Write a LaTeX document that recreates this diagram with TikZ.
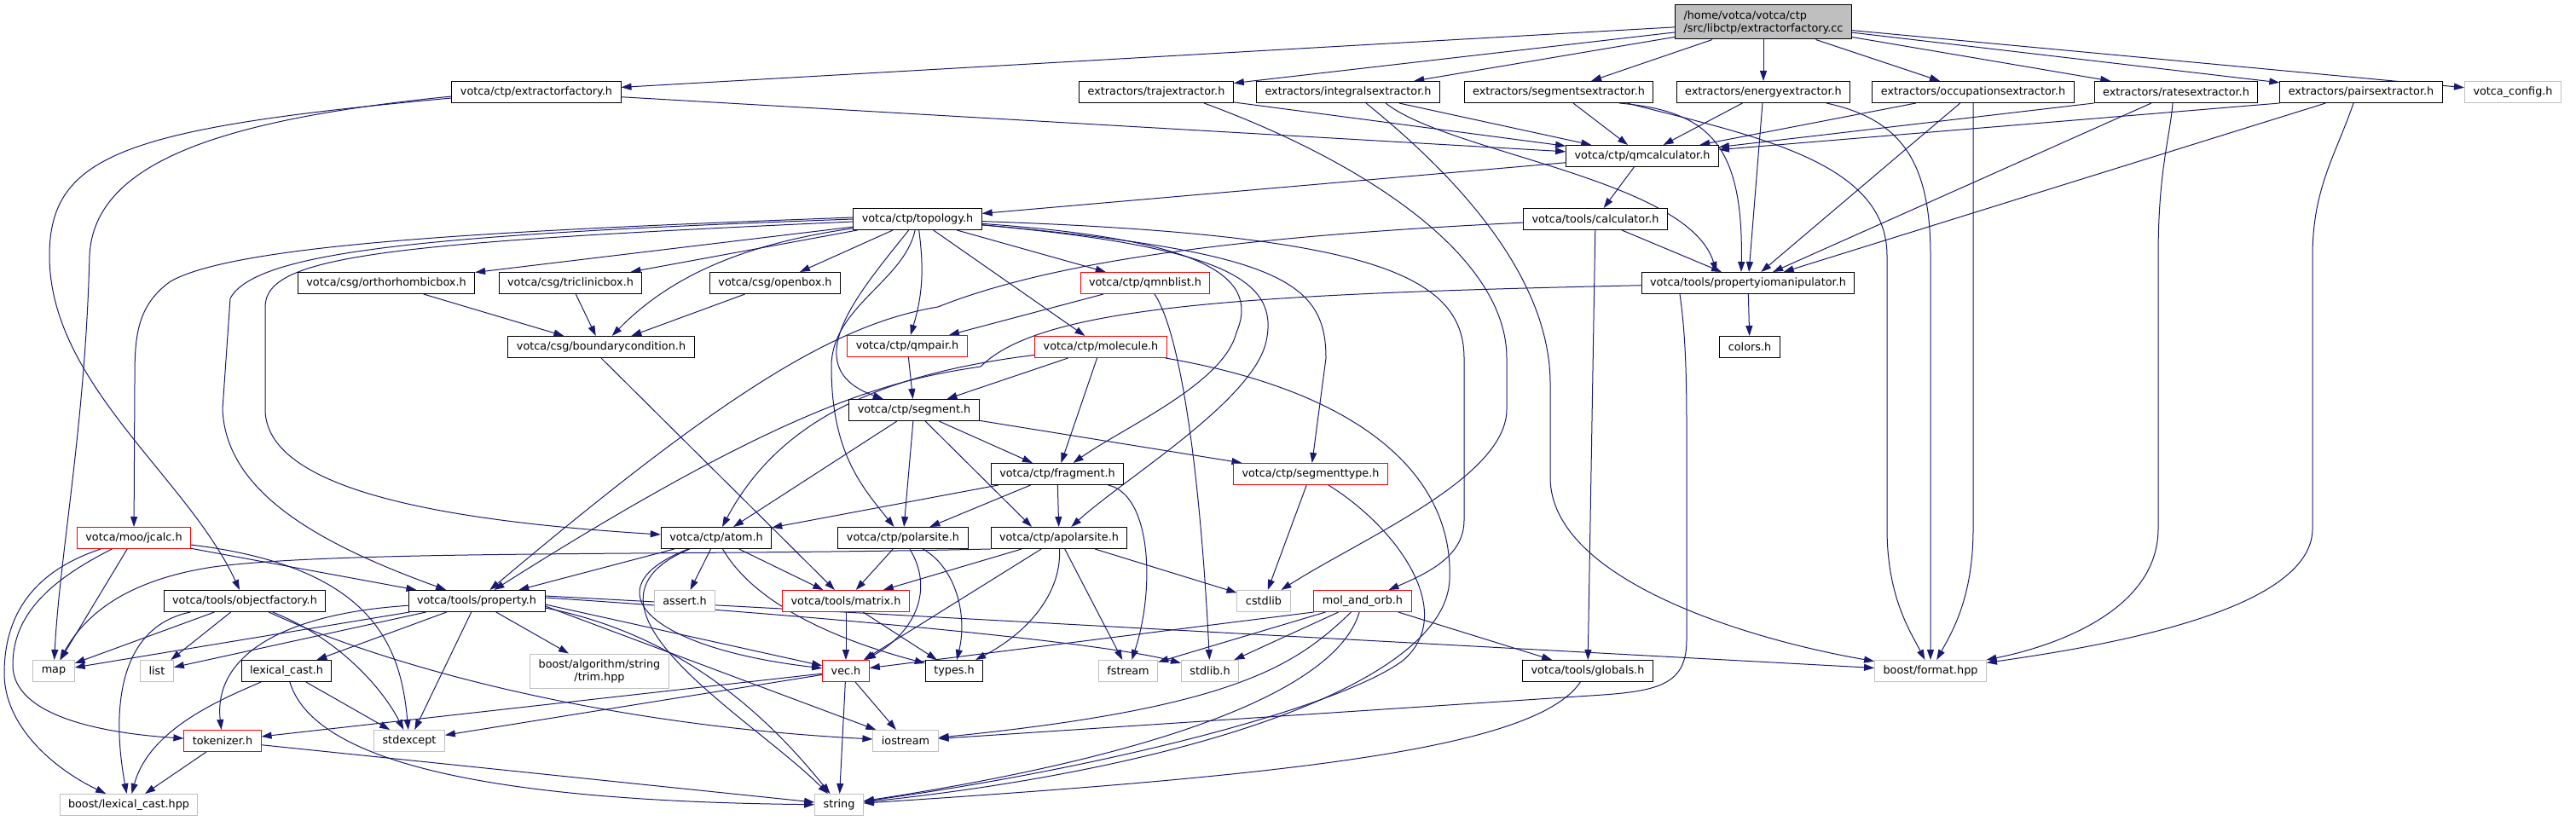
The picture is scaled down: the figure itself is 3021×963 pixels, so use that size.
\documentclass[tikz,border=0pt]{standalone}
\usepackage{fontspec}
\newfontfamily\dxfont{DejaVu Sans}
\usetikzlibrary{arrows.meta,backgrounds}
\definecolor{edgeblue}{HTML}{191970}
\definecolor{boxred}{HTML}{FF0000}
\definecolor{boxgray}{HTML}{BFBFBF}

\begin{document}
\begin{tikzpicture}[x=1pt, y=-1pt,
  hfile/.style={draw=black, fill=white, line width=1pt, inner xsep=10pt, inner ysep=0pt,
    minimum height=25pt, font=\dxfont\fontsize{12.8}{15}\selectfont},
  redfile/.style={hfile, draw=boxred},
  sysfile/.style={hfile, draw=boxgray},
  rootfile/.style={hfile, fill=boxgray, align=left, minimum height=40pt},
  dep/.style={draw=edgeblue, line width=1pt, -{Triangle[length=12pt,width=8pt]}}]
  \useasboundingbox (0,0) rectangle (3021,963);

  % Nodes
  \node[rootfile] (root) at (2068,26) {/home/votca/votca/ctp\\/src/libctp/extractorfactory.cc};
  \node[hfile] (extfac) at (629,108) {votca/ctp/extractorfactory.h};
  \node[hfile] (traj) at (1356,108) {extractors/trajextractor.h};
  \node[hfile] (integ) at (1581,108) {extractors/integralsextractor.h};
  \node[hfile] (segx) at (1828,108) {extractors/segmentsextractor.h};
  \node[hfile] (energy) at (2068,108) {extractors/energyextractor.h};
  \node[hfile] (occup) at (2314,108) {extractors/occupationsextractor.h};
  \node[hfile] (rates) at (2552,108) {extractors/ratesextractor.h};
  \node[hfile] (pairs) at (2769,108) {extractors/pairsextractor.h};
  \node[sysfile] (config) at (2947,108) {votca\_config.h};
  \node[hfile] (qmcalc) at (1926,183) {votca/ctp/qmcalculator.h};
  \node[hfile] (topo) at (1076,257) {votca/ctp/topology.h};
  \node[hfile] (calc) at (1871,257) {votca/tools/calculator.h};
  \node[hfile] (ortho) at (453,332) {votca/csg/orthorhombicbox.h};
  \node[hfile] (tricl) at (669,332) {votca/csg/triclinicbox.h};
  \node[hfile] (openbox) at (909,332) {votca/csg/openbox.h};
  \node[redfile] (qmnb) at (1343,332) {votca/ctp/qmnblist.h};
  \node[hfile] (propio) at (2050,332) {votca/tools/propertyiomanipulator.h};
  \node[hfile] (bc) at (705,407) {votca/csg/boundarycondition.h};
  \node[redfile] (qmpair) at (1064,406) {votca/ctp/qmpair.h};
  \node[redfile] (molec) at (1291,407) {votca/ctp/molecule.h};
  \node[hfile] (colors) at (2052,407) {colors.h};
  \node[hfile] (seg) at (1072,481) {votca/ctp/segment.h};
  \node[hfile] (frag) at (1240,556) {votca/ctp/fragment.h};
  \node[redfile] (segtype) at (1537,556) {votca/ctp/segmenttype.h};
  \node[redfile] (jcalc) at (157,631) {votca/moo/jcalc.h};
  \node[hfile] (atom) at (840,631) {votca/ctp/atom.h};
  \node[hfile] (polar) at (1059,631) {votca/ctp/polarsite.h};
  \node[hfile] (apolar) at (1242,631) {votca/ctp/apolarsite.h};
  \node[hfile] (objfac) at (287,705) {votca/tools/objectfactory.h};
  \node[hfile] (prop) at (559,705) {votca/tools/property.h};
  \node[sysfile] (assert) at (803,705) {assert.h};
  \node[redfile] (matrix) at (992,705) {votca/tools/matrix.h};
  \node[sysfile] (cstdlib) at (1482,705) {cstdlib};
  \node[redfile] (molorb) at (1598,705) {mol\_and\_orb.h};
  \node[sysfile] (map) at (63,787) {map};
  \node[sysfile] (list) at (184,787) {list};
  \node[hfile] (lexcast) at (336,787) {lexical\_cast.h};
  \node[sysfile, align=center, minimum height=40pt] (trim) at (703,787) {boost/algorithm/string\\/trim.hpp};
  \node[redfile] (vec) at (992,787) {vec.h};
  \node[hfile] (types) at (1119,787) {types.h};
  \node[sysfile] (fstream) at (1323,787) {fstream};
  \node[sysfile] (stdlib) at (1419,787) {stdlib.h};
  \node[hfile] (globals) at (1862,787) {votca/tools/globals.h};
  \node[sysfile] (bfmt) at (2264,787) {boost/format.hpp};
  \node[redfile] (tokenizer) at (261,869) {tokenizer.h};
  \node[sysfile] (stdexcept) at (480,869) {stdexcept};
  \node[sysfile] (iostream) at (1062,869) {iostream};
  \node[sysfile] (lexhpp) at (151,944) {boost/lexical\_cast.hpp};
  \node[sysfile] (string) at (984,944) {string};

  % Edges
  \begin{pgfonlayer}{background}
  \foreach \a/\b in {root/extfac, root/traj, root/integ, root/segx, root/energy, root/occup,
      root/rates, root/pairs, root/config,
      extfac/qmcalc, traj/qmcalc, integ/qmcalc, segx/qmcalc, energy/qmcalc, occup/qmcalc,
      qmcalc/topo, qmcalc/calc, calc/propio, calc/globals,
      energy/propio, occup/propio, rates/propio, pairs/propio, propio/colors,
      topo/ortho, topo/tricl, topo/openbox, topo/qmnb, topo/molec,
      ortho/bc, tricl/bc, openbox/bc,
      qmnb/qmpair, qmpair/seg, molec/seg, molec/frag,
      seg/frag, seg/polar, seg/segtype, seg/atom,
      frag/atom, frag/polar, frag/apolar, segtype/cstdlib,
      polar/matrix, apolar/matrix, apolar/vec, apolar/fstream, apolar/cstdlib,
      atom/prop, atom/assert, atom/matrix, matrix/vec, matrix/types,
      molorb/fstream, molorb/stdlib, molorb/globals,
      jcalc/map, jcalc/prop, objfac/map, objfac/list,
      prop/map, prop/list, prop/lexcast, prop/stdexcept, prop/trim,
      lexcast/stdexcept, vec/tokenizer, vec/stdexcept, vec/iostream, vec/string,
      tokenizer/lexhpp, tokenizer/string}
    \draw[dep] (\a) -- (\b);

  \draw[dep] (rates.south west) -- (qmcalc);
  \draw[dep] (pairs.south west) -- (qmcalc);
  \draw[dep] (seg) -- ([xshift=-32pt]apolar.north);
  \draw[dep] (molorb.south west) -- (vec);
  \draw[dep] (bc.south) -- (matrix);
  \draw[dep] ([yshift=-4pt]prop.east) -- (vec);
  \draw[dep] ([yshift=-6pt]prop.east) -- (iostream);
  \draw[dep] ([yshift=6pt]prop.east) -- (bfmt);
  \draw[dep] (topo) to[bend left=12] (qmpair);
  \draw[dep] ([xshift=11pt]qmnb.south) .. controls (1390,400) and (1410,600) .. (stdlib);

  % extractorfactory.h
  \draw[dep] ([yshift=-5pt]extfac.west) .. controls (260,140) and (110,190) .. (105,300)
    .. controls (100,500) and (70,650) .. (map);
  \draw[dep] ([yshift=-7pt]extfac.west) .. controls (150,150) and (58,180) .. (58,300)
    .. controls (58,450) and (220,560) .. (objfac);

  % extractors
  \draw[dep] ([xshift=56pt]traj.south) .. controls (1600,190) and (1767,300) .. (1767,420)
    -- (1767,480) .. controls (1767,560) and (1600,630) .. (cstdlib);
  \draw[dep] ([xshift=44pt]integ.south) .. controls (1700,180) and (1980,210) .. ([xshift=-37pt]propio.north);
  \draw[dep] ([xshift=21pt]integ.south) .. controls (1700,200) and (1818,320) .. (1818,450)
    -- (1818,560) .. controls (1818,680) and (2050,750) .. (bfmt);
  \draw[dep] ([xshift=71pt]segx.south) .. controls (2000,130) and (2045,165) .. ([xshift=-8pt]propio.north);
  \draw[dep] ([xshift=80pt]segx.south) .. controls (2060,160) and (2213,190) .. (2213,300)
    -- (2213,620) .. controls (2213,700) and (2240,740) .. (bfmt);
  \draw[dep] ([xshift=74pt]energy.south) .. controls (2230,140) and (2264,190) .. (2264,300) -- (bfmt);
  \draw[dep] (occup) -- (2314,620) .. controls (2314,700) and (2290,740) .. (bfmt);
  \draw[dep] ([xshift=-4pt]rates.south) .. controls (2545,160) and (2531,200) .. (2531,300)
    -- (2531,620) .. controls (2531,720) and (2400,760) .. (bfmt);
  \draw[dep] ([xshift=-9pt]pairs.south) .. controls (2740,180) and (2712,220) .. (2712,300)
    -- (2712,620) .. controls (2712,720) and (2450,760) .. (bfmt);

  % calculator.h, propertyiomanipulator.h
  \draw[dep] (calc) .. controls (1500,275) and (1250,300) .. (1100,360)
    .. controls (980,380) and (850,460) .. (prop);
  \draw[dep] ([xshift=-80pt]propio.south) .. controls (1975,380) and (1978,420) .. (1978,500)
    -- (1978,750) .. controls (1978,800) and (1950,810) .. (1880,815) -- (iostream);
  \draw[dep] (propio) .. controls (1450,345) and (1220,360) .. (1150,430)
    .. controls (1050,445) and (930,470) .. (prop);

  % topology.h
  \draw[dep] ([yshift=2pt]topo.west) .. controls (600,270) and (280,285) .. (200,330)
    .. controls (158,360) and (158,400) .. (158,450) -- (jcalc);
  \draw[dep] (topo.west) .. controls (500,275) and (300,295) .. (270,350)
    -- (261,480) .. controls (265,580) and (380,640) .. (prop);
  \draw[dep] ([yshift=-3pt]topo.west) .. controls (450,285) and (311,300) .. (311,360)
    -- (311,480) .. controls (311,570) and (500,610) .. (atom);
  \draw[dep] (topo) .. controls (880,285) and (790,320) .. (bc);
  \draw[dep] (topo) .. controls (1010,340) and (930,430) .. (seg);
  \draw[dep] (topo) .. controls (1060,330) and (975,360) .. (975,430)
    .. controls (975,530) and (1010,570) .. (polar);
  \draw[dep] (topo) .. controls (1400,280) and (1480,320) .. (1450,390)
    .. controls (1435,450) and (1320,500) .. (frag);
  \draw[dep] (topo) .. controls (1440,290) and (1500,330) .. (1485,400)
    .. controls (1470,470) and (1320,560) .. (apolar);
  \draw[dep] (topo) .. controls (1500,295) and (1555,330) .. (1555,420) -- (segtype);
  \draw[dep] (topo) .. controls (1600,275) and (1717,320) .. (1717,420)
    -- (1717,610) .. controls (1717,650) and (1680,670) .. (molorb);

  % molecule.h, fragment.h, segmenttype.h
  \draw[dep] (molec) .. controls (1020,440) and (910,500) .. (atom);
  \draw[dep] (molec) .. controls (1600,460) and (1705,560) .. (1700,680)
    .. controls (1695,800) and (1400,900) .. (string);
  \draw[dep] (frag) .. controls (1350,580) and (1355,690) .. (fstream);
  \draw[dep] (segtype) .. controls (1640,620) and (1710,720) .. (1645,775)
    .. controls (1570,830) and (1300,900) .. (string);

  % sites, atom.h
  \draw[dep] (polar) .. controls (1095,690) and (1075,740) .. (vec);
  \draw[dep] (polar) .. controls (1120,665) and (1135,720) .. (types);
  \draw[dep] (apolar.south west) .. controls (800,652) and (400,645) .. (250,665)
    .. controls (150,680) and (100,720) .. (map);
  \draw[dep] (apolar) .. controls (1245,700) and (1200,745) .. (types);
  \draw[dep] (atom) .. controls (880,700) and (960,745) .. (types);
  \draw[dep] (atom) .. controls (690,690) and (760,760) .. (vec);
  \draw[dep] (atom) .. controls (650,710) and (880,840) .. (string);

  % property.h
  \draw[dep] ([yshift=-8pt]prop.east) .. controls (800,745) and (900,840) .. (string);
  \draw[dep] ([yshift=4pt]prop.east) .. controls (1000,725) and (1300,755) .. (stdlib);
  \draw[dep] (prop) .. controls (330,720) and (250,770) .. (tokenizer);

  % left side
  \draw[dep] (jcalc) .. controls (60,680) and (15,720) .. (15,780)
    .. controls (15,840) and (120,860) .. (tokenizer);
  \draw[dep] (jcalc) .. controls (40,670) and (5,720) .. (5,790)
    .. controls (5,850) and (60,900) .. (lexhpp);
  \draw[dep] (jcalc) .. controls (440,665) and (470,760) .. (stdexcept);
  \draw[dep] (objfac) .. controls (140,735) and (130,830) .. (lexhpp);
  \draw[dep] (objfac) .. controls (400,750) and (450,810) .. (stdexcept);
  \draw[dep] (objfac) .. controls (450,780) and (700,850) .. (iostream);
  \draw[dep] (lexcast) .. controls (260,820) and (175,855) .. (lexhpp);
  \draw[dep] (lexcast) .. controls (370,900) and (600,940) .. (string);

  % mol_and_orb.h, globals.h
  \draw[dep] (molorb) .. controls (1520,780) and (1450,830) .. (iostream);
  \draw[dep] (molorb) .. controls (1570,800) and (1400,880) .. (string);
  \draw[dep] (globals) .. controls (1800,880) and (1500,910) .. (string);
  \end{pgfonlayer}
\end{tikzpicture}
\end{document}
